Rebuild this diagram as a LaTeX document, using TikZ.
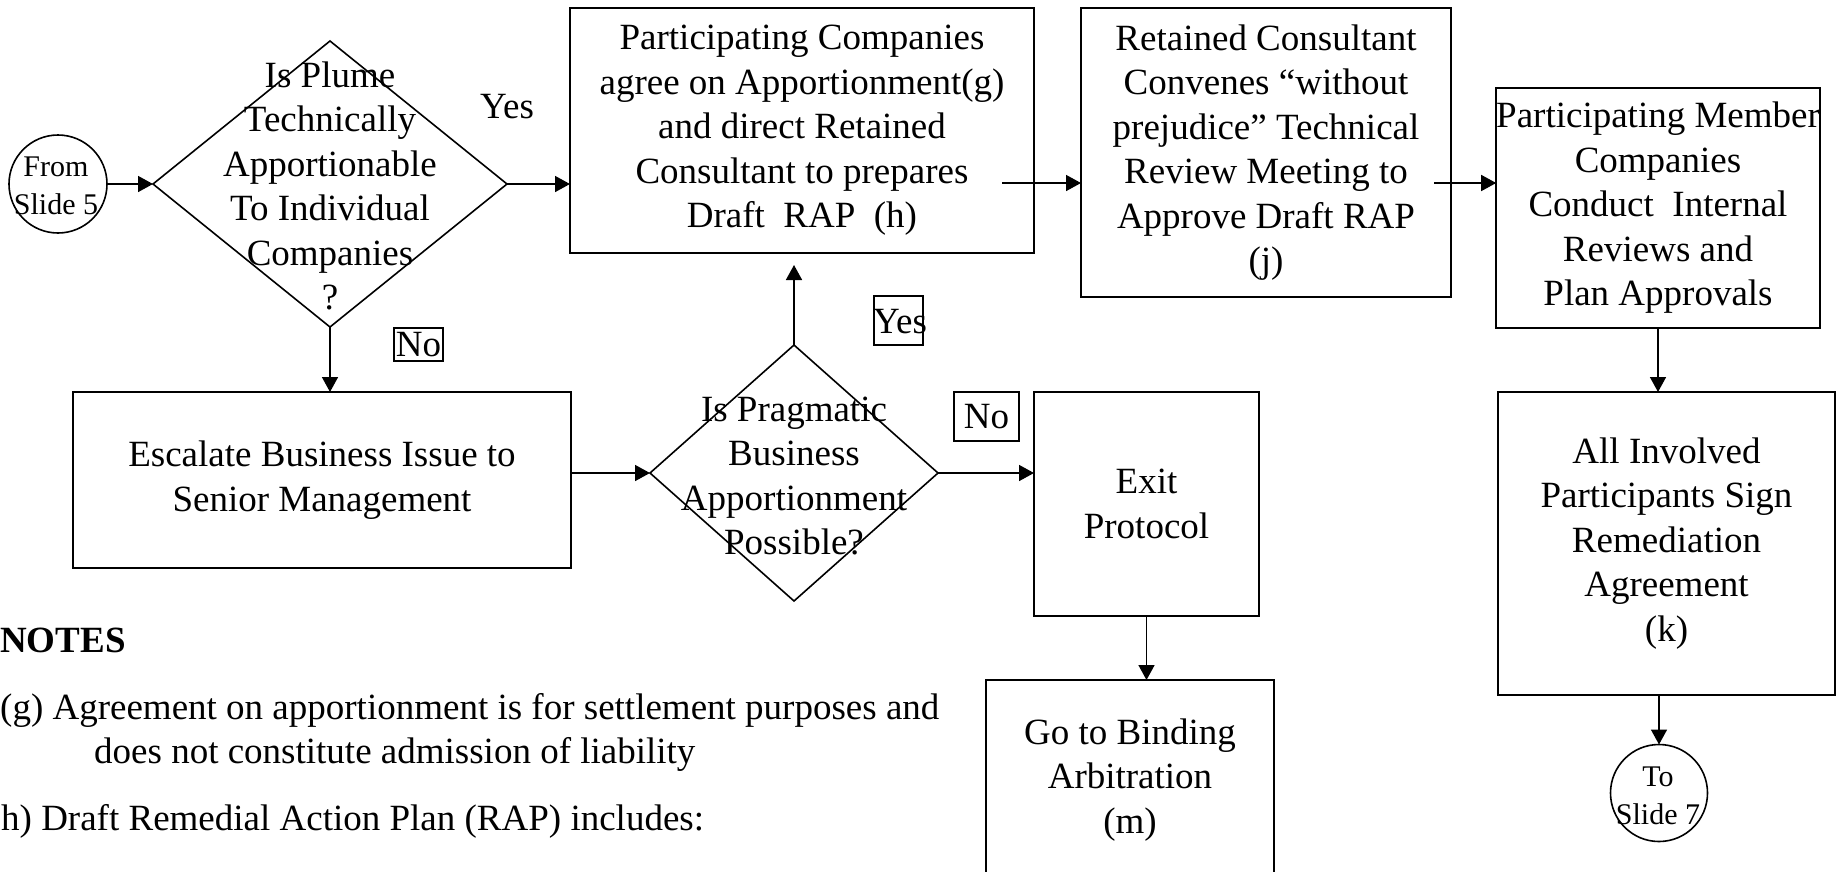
\documentclass[tikz,border=0pt]{standalone}
\usepackage{fontspec}
\setmainfont{Liberation Serif}
\usetikzlibrary{shapes.geometric,arrows.meta}
\begin{document}
\begin{tikzpicture}[x=1pt,y=-1pt,
  txt/.style={font=\fontsize{37}{44.5}\selectfont, align=center, inner sep=0pt},
  smalltxt/.style={font=\fontsize{30}{38}\selectfont, align=center, inner sep=0pt},
  notetxt/.style={font=\fontsize{37}{44.5}\selectfont, anchor=base west, inner sep=0pt},
  stepbox/.style={draw, line width=2pt, inner sep=0pt, outer sep=0pt, align=center,
                  font=\fontsize{37}{44.5}\selectfont},
  decision/.style={draw, diamond, line width=1.6pt, inner sep=0pt, outer sep=0pt},
  connector/.style={draw, circle, line width=1.6pt, inner sep=0pt, outer sep=0pt},
  tag/.style={draw, line width=1.5pt, inner sep=0pt, outer sep=0pt,
              font=\fontsize{37}{44.5}\selectfont},
  flow/.style={line width=1.6pt, -{Triangle[length=15pt,width=16pt]}}
]
% page area
\fill[white] (0,0) rectangle (1842,871);
\useasboundingbox (0,0) rectangle (1842,871);
\clip (0,0) rectangle (1842,871);

% --- top row: plume decision and draft RAP steps ---
\node[connector, minimum size=98pt] (from) at (58,184) {};
\node[smalltxt] (fromtxt) at (56,186) {From\\Slide 5};

\node[decision, minimum width=354pt, minimum height=286pt] (d1) at (330,184) {};
\node[txt] (d1txt) at (330,186) {Is Plume\\Technically\\Apportionable\\To Individual\\Companies\\?};
\node[txt] (yes1) at (507,107) {Yes};
\node[tag, minimum width=49pt, minimum height=33pt] (no1) at (418.5,344.5) {No};

\node[stepbox, minimum width=464pt, minimum height=245pt] (b1) at (802,130.5)
  {Participating Companies\\agree on Apportionment(g)\\and direct Retained\\Consultant to prepares\\Draft~~RAP~~(h)};

\node[stepbox, minimum width=370pt, minimum height=289pt] (b2) at (1266,152.5)
  {Retained Consultant\\Convenes “without\\prejudice” Technical\\Review Meeting to\\Approve Draft RAP\\(j)};

\node[stepbox, minimum width=320pt, minimum height=240pt] (b3) at (1658,208)
  {Participating Member\\Companies\\Conduct~~Internal\\Reviews and\\Plan Approvals};

\node[stepbox, minimum width=337pt, minimum height=303pt] (b4) at (1666.5,543.5)
  {All Involved\\Participants Sign\\Remediation\\Agreement\\(k)};

\node[connector, minimum size=97pt] (to) at (1659,793) {};
\node[smalltxt] (totxt) at (1658,796) {To\\Slide 7};

% --- middle row: escalation and pragmatic decision ---
\node[stepbox, minimum width=498pt, minimum height=176pt] (esc) at (322,480)
  {Escalate Business Issue to\\Senior Management};

\node[decision, minimum width=288pt, minimum height=256pt] (d2) at (794,473) {};
\node[txt] (d2txt) at (794,476) {Is Pragmatic\\Business\\Apportionment\\Possible?};

\node[tag, minimum width=49pt, minimum height=49pt] (yes2) at (898.5,320.5) {};
\node[txt] (yes2txt) at (900,322) {Yes};
\node[tag, minimum width=65pt, minimum height=49pt] (no2) at (986.5,416.5) {No};

\node[stepbox, minimum width=225pt, minimum height=224pt] (exit) at (1146.5,504)
  {Exit\\Protocol};
\node[stepbox, minimum width=288pt, minimum height=200pt] (bind) at (1130,780)
  {Go to Binding\\Arbitration\\(m)};

% --- notes ---
\node[notetxt, font=\bfseries\fontsize{37}{44.5}\selectfont] (notes) at (0,652) {NOTES};
\node[notetxt] (noteg) at (0,719) {(g) Agreement on apportionment is for settlement purposes and};
\node[notetxt] (noteg2) at (94,763) {does not constitute admission of liability};
\node[notetxt] (noteh) at (1,830) {h) Draft Remedial Action Plan (RAP) includes:};

% --- connectors ---
\coordinate (a1) at (1002,183);
\coordinate (a2) at (1434,183);
\draw[flow] (from) -- (d1);
\draw[flow] (d1.east) -- (d1.east -| b1.west);
\draw[flow] (d1.south) -- (d1.south |- esc.north);
\draw[flow] (esc.east |- d2.west) -- (d2.west);
\draw[flow, shorten >=12pt] (d2.north) -- (d2.north |- b1.south);
\draw[flow] (d2.east) -- (d2.east -| exit.west);
\draw[flow] (exit.south) -- (exit.south |- bind.north);
\draw[flow] (a1) -- (a1 -| b2.west);
\draw[flow] (a2) -- (a2 -| b3.west);
\draw[flow] (b3.south) -- (b3.south |- b4.north);
\draw[flow] (to.north |- b4.south) -- (to.north);
\end{tikzpicture}
\end{document}
